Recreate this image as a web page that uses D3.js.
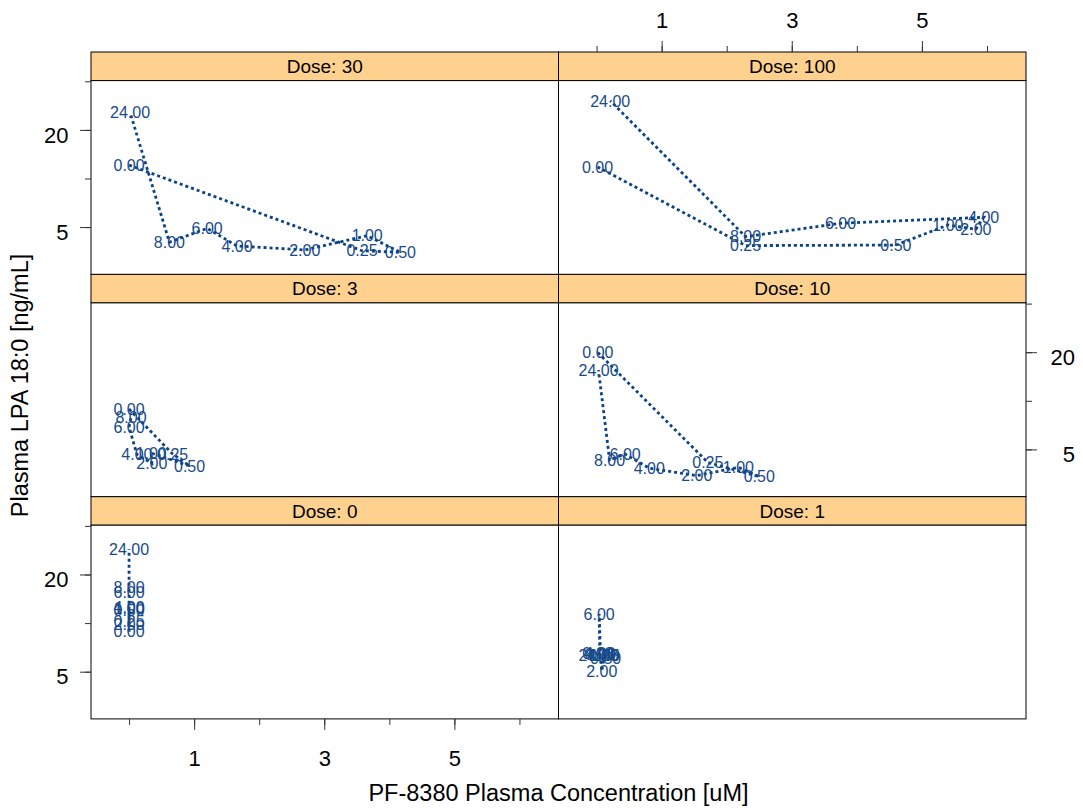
<!DOCTYPE html>
<meta charset="utf-8">
<style>
body { margin: 0; background: #fff; }
text { font-family: "Liberation Sans", Arial, sans-serif; }
.axis path { display: none; }
.axis line { stroke: #333; }
.axis text { font-size: 22px; fill: #000; }
.lbl { font-size: 16px; fill: #174a8b; }
.strip text { font-size: 19px; }
</style>
<svg width="1083" height="808"></svg>
<script src="https://cdn.jsdelivr.net/npm/d3@7"></script>
<script>

var svg = d3.select("svg");

// time point labels, in sampling order
var timeLabels = ["0.00", "0.25", "0.50", "1.00", "2.00", "4.00", "6.00", "8.00", "24.00"];

// PF-8380 plasma concentration [uM] and LPA 18:0 [ng/mL] per dose
var conc0 = [0, 0, 0, 0, 0, 0, 0, 0, 0];
var lpa0 = [8.85, 10.3, 12.06, 12.35, 9.83, 12.6, 15.6, 16.6, 28.8];

var conc1 = [0.02, 0.11, 0.14, 0.12, 0.08, 0.05, 0.04, 0.06, 0.03];
var lpa1 = [6.5, 6.3, 6.05, 6.3, 5.05, 6.5, 11.4, 6.4, 6.3];

var conc3 = [0, 0.67, 0.93, 0.34, 0.35, 0.12, 0, 0.03];
var lpa3 = [8.89, 4.68, 3.95, 4.75, 4.10, 4.66, 6.88, 7.90];

var conc10 = [0.02, 1.71, 2.50, 2.18, 1.54, 0.81, 0.44, 0.20, 0.03];
var lpa10 = [19.9, 4.15, 3.39, 3.87, 3.44, 3.82, 4.68, 4.30, 15.5];

var conc30 = [0, 3.58, 4.17, 3.66, 2.70, 1.66, 1.20, 0.62, 0.015];
var lpa30 = [12.1, 3.57, 3.49, 4.42, 3.61, 3.82, 4.91, 4.03, 25.7];

var conc100 = [0.015, 2.29, 4.60, 5.40, 5.83, 5.95, 3.75, 2.29, 0.21];
var lpa100 = [11.8, 3.84, 3.87, 5.15, 4.85, 5.75, 5.28, 4.36, 30.3];

// panel order as lattice lays it out: bottom-left first
var panels = [
  {dose: 0, conc: conc0, lpa: lpa0, col: 0, row: 2},
  {dose: 1, conc: conc1, lpa: lpa1, col: 1, row: 2},
  {dose: 3, conc: conc3, lpa: lpa3, col: 0, row: 1},
  {dose: 10, conc: conc10, lpa: lpa10, col: 1, row: 1},
  {dose: 30, conc: conc30, lpa: lpa30, col: 0, row: 0},
  {dose: 100, conc: conc100, lpa: lpa100, col: 1, row: 0}
];

var xTicks = [0, 1, 2, 3, 4, 5, 6],
    xLabeled = [1, 3, 5];
var yTicks = [5, 10, 20, 40],
    yLabeled = [5, 20];

var x0 = 91, y0 = 52,
    panelW = 467.5, stripH = 28.6, plotH = 193.7,
    rowH = stripH + plotH;

var x = d3.scaleLinear().domain([-0.585, 6.6]).range([0, panelW]);
var y = d3.scaleLog().base(2).domain([2.55, 40.4]).range([plotH, 0]);

var line = d3.line()
    .x(function(d) { return x(d.c); })
    .y(function(d) { return y(d.v); });

panels.forEach(function(p) {
  var g = svg.append("g")
      .attr("transform", "translate(" + (x0 + p.col * panelW) + "," + (y0 + p.row * rowH) + ")");

  var strip = g.append("g").attr("class", "strip");
  strip.append("rect")
      .attr("width", panelW).attr("height", stripH)
      .attr("fill", "#ffd18f").attr("stroke", "#000");
  strip.append("text")
      .attr("x", panelW / 2).attr("y", stripH / 2)
      .attr("dy", "0.36em")
      .attr("text-anchor", "middle")
      .text("Dose: " + p.dose);

  var body = g.append("g").attr("transform", "translate(0," + stripH + ")");
  body.append("rect")
      .attr("width", panelW).attr("height", plotH)
      .attr("fill", "#fff").attr("stroke", "#000");

  var pts = p.conc.map(function(c, i) { return {c: c, v: p.lpa[i], t: timeLabels[i]}; });

  body.append("path")
      .datum(pts)
      .attr("d", line)
      .attr("fill", "none")
      .attr("stroke", "#0a4386")
      .attr("stroke-width", 2.8)
      .attr("stroke-dasharray", "3,3");

  body.selectAll(".lbl")
    .data(pts)
    .enter().append("text")
      .attr("class", "lbl")
      .attr("x", function(d) { return x(d.c); })
      .attr("y", function(d) { return y(d.v); })
      .attr("dy", "0.36em")
      .attr("text-anchor", "middle")
      .text(function(d) { return d.t; });
});

// axes, alternating sides like lattice

// left axis for rows 0 and 2
[0, 2].forEach(function(r) {
  var gy = y0 + r * rowH + stripH;
  svg.append("g").attr("class", "axis")
      .attr("transform", "translate(" + x0 + "," + gy + ")")
      .call(d3.axisLeft(y).tickValues(yTicks).tickFormat("").tickSize(6));
  svg.append("g").attr("class", "axis")
      .attr("transform", "translate(" + x0 + "," + gy + ")")
      .call(d3.axisLeft(y).tickValues(yLabeled).tickFormat(d3.format("d")).tickSize(11).tickPadding(11.5))
    .selectAll("text")
      .attr("dy", "0.55em");
});

// right axis for row 1
var rx = x0 + 2 * panelW, ry = y0 + rowH + stripH;
svg.append("g").attr("class", "axis")
    .attr("transform", "translate(" + rx + "," + ry + ")")
    .call(d3.axisRight(y).tickValues(yTicks).tickFormat("").tickSize(6));
svg.append("g").attr("class", "axis")
    .attr("transform", "translate(" + rx + "," + ry + ")")
    .call(d3.axisRight(y).tickValues(yLabeled).tickFormat(d3.format("d")).tickSize(11))
  .selectAll("text")
    .attr("x", 49)
    .attr("dy", "0.55em")
    .attr("text-anchor", "end");

// bottom axis under left column
var by = y0 + 3 * rowH;
svg.append("g").attr("class", "axis")
    .attr("transform", "translate(" + x0 + "," + by + ")")
    .call(d3.axisBottom(x).tickValues(xTicks).tickFormat("").tickSize(6));
svg.append("g").attr("class", "axis")
    .attr("transform", "translate(" + x0 + "," + by + ")")
    .call(d3.axisBottom(x).tickValues(xLabeled).tickFormat(d3.format("d")).tickSize(11).tickPadding(20));

// top axis over right column
svg.append("g").attr("class", "axis")
    .attr("transform", "translate(" + (x0 + panelW) + "," + y0 + ")")
    .call(d3.axisTop(x).tickValues(xTicks).tickFormat("").tickSize(6));
svg.append("g").attr("class", "axis")
    .attr("transform", "translate(" + (x0 + panelW) + "," + y0 + ")")
    .call(d3.axisTop(x).tickValues(xLabeled).tickFormat(d3.format("d")).tickSize(11).tickPadding(13));

// axis titles
svg.append("text")
    .attr("x", x0 + panelW)
    .attr("y", 801)
    .attr("text-anchor", "middle")
    .style("font-size", "23.5px")
    .text("PF-8380 Plasma Concentration [uM]");

svg.append("text")
    .attr("transform", "translate(28," + (y0 + 1.5 * rowH) + ") rotate(-90)")
    .attr("text-anchor", "middle")
    .style("font-size", "23.5px")
    .text("Plasma LPA 18:0 [ng/mL]");

</script>
